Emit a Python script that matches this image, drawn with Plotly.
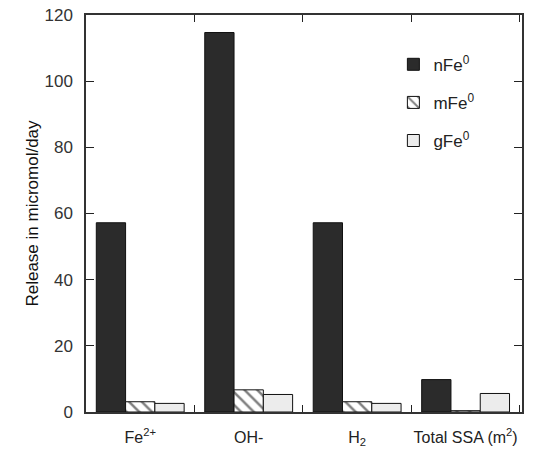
import plotly.graph_objects as go

# Categories and release values (micromol/day; last group is total SSA in m2)
categories = ["Fe<sup>2+</sup>", "OH-", "H<sub>2</sub>", "Total SSA (m<sup>2</sup>)"]
nfe_values = [57.2, 114.7, 57.2, 9.8]
mfe_values = [3.1, 6.7, 3.1, 0.4]
gfe_values = [2.6, 5.3, 2.6, 5.6]
y_ticks = [0, 20, 40, 60, 80, 100, 120]

font_family = "Liberation Sans, Arial, sans-serif"

fig = go.Figure()
fig.add_trace(go.Bar(
    name="nFe<sup>0</sup>", x=categories, y=nfe_values, legendgroup="n",
    marker=dict(color="#2b2b2b", line=dict(color="#111111", width=1)),
))
fig.add_trace(go.Bar(
    name="mFe<sup>0</sup>", x=categories, y=mfe_values, legendgroup="m",
    marker=dict(color="white", line=dict(color="#111111", width=1),
                pattern=dict(shape="\\", fgcolor="#000000", bgcolor="white",
                             size=9, solidity=0.28)),
))
fig.add_trace(go.Bar(
    name="gFe<sup>0</sup>", x=categories, y=gfe_values, legendgroup="g",
    marker=dict(color="#ececec", line=dict(color="#111111", width=1)),
))

fig.update_layout(
    width=539, height=452,
    margin=dict(l=86, r=17, t=15, b=40, autoexpand=False),
    paper_bgcolor="white", plot_bgcolor="white",
    barmode="group", bargap=0.19, bargroupgap=0,
    font=dict(family=font_family, color="#222222", size=16),
    showlegend=True,
    legend=dict(x=0.705, y=0.92, xanchor="left", yanchor="top",
                bgcolor="rgba(0,0,0,0)", tracegroupgap=13,
                font=dict(size=17, color="#222222")),
)
fig.update_xaxes(
    type="category", range=[-0.5, 3.52], automargin=False,
    showline=True, linecolor="#333333", linewidth=1.5, mirror="ticks",
    ticks="inside", ticklen=7, tickcolor="#222222", tickson="boundaries",
    showgrid=False, ticklabelstandoff=10, tickangle=0,
    tickfont=dict(size=16, color="#222222"),
)
fig.update_yaxes(
    range=[0, 120], tickvals=y_ticks, automargin=False,
    showline=True, linecolor="#333333", linewidth=1.5, mirror="ticks",
    ticks="inside", ticklen=8, tickcolor="#222222",
    showgrid=False, zeroline=False, ticklabelstandoff=8,
    tickfont=dict(size=17, color="#333333"),
    title=dict(text="Release in micromol/day", font=dict(size=17, color="#111111"), standoff=2),
)

fig.write_html("out.html")
